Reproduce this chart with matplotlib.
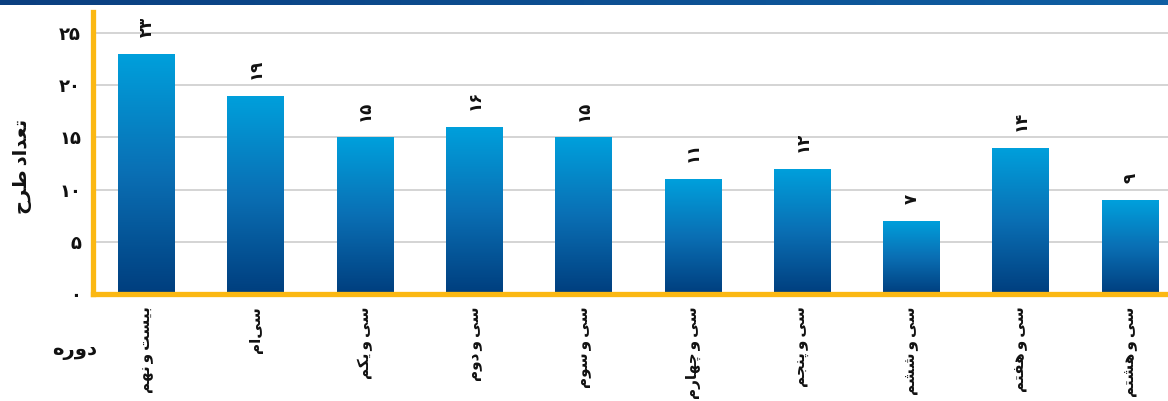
import numpy as np
import matplotlib
matplotlib.use("Agg")
import matplotlib.pyplot as plt
from matplotlib.colors import LinearSegmentedColormap

# ---- data -------------------------------------------------------------
periods = ["بیست و نهم", "سی\u200cام", "سی و یکم", "سی و دوم", "سی و سوم",
           "سی و چهارم", "سی و پنجم", "سی و ششم", "سی و هفتم", "سی و هشتم"]
counts = [23, 19, 15, 16, 15, 11, 12, 7, 14, 9]
y_ticks = [0, 5, 10, 15, 20, 25]
y_label = "تعداد طرح"
x_label = "دوره"

# ---- minimal Persian shaping (presentation forms + visual order) -------
# letter: (isolated, final, initial, medial); None means the letter
# does not join to the following letter.
FORMS = {
    "ا": (0xFE8D, 0xFE8E, None, None),
    "ب": (0xFE8F, 0xFE90, 0xFE91, 0xFE92),
    "پ": (0xFB56, 0xFB57, 0xFB58, 0xFB59),
    "ت": (0xFE95, 0xFE96, 0xFE97, 0xFE98),
    "ج": (0xFE9D, 0xFE9E, 0xFE9F, 0xFEA0),
    "چ": (0xFB7A, 0xFB7B, 0xFB7C, 0xFB7D),
    "ح": (0xFEA1, 0xFEA2, 0xFEA3, 0xFEA4),
    "د": (0xFEA9, 0xFEAA, None, None),
    "ر": (0xFEAD, 0xFEAE, None, None),
    "س": (0xFEB1, 0xFEB2, 0xFEB3, 0xFEB4),
    "ش": (0xFEB5, 0xFEB6, 0xFEB7, 0xFEB8),
    "ط": (0xFEC1, 0xFEC2, 0xFEC3, 0xFEC4),
    "ع": (0xFEC9, 0xFECA, 0xFECB, 0xFECC),
    "ف": (0xFED1, 0xFED2, 0xFED3, 0xFED4),
    "ک": (0xFB8E, 0xFB8F, 0xFB90, 0xFB91),
    "م": (0xFEE1, 0xFEE2, 0xFEE3, 0xFEE4),
    "ن": (0xFEE5, 0xFEE6, 0xFEE7, 0xFEE8),
    "ه": (0xFEE9, 0xFEEA, 0xFEEB, 0xFEEC),
    "و": (0xFEED, 0xFEEE, None, None),
    "ی": (0xFBFC, 0xFBFD, 0xFBFE, 0xFBFF),
}


def shape(text, space=" "):
    out = []
    n = len(text)
    for i, ch in enumerate(text):
        if ch not in FORMS:
            if ch == " ":
                out.append(space)
            elif ch != "\u200c":
                out.append(ch)
            continue
        prev = text[i - 1] if i > 0 else None
        nxt = text[i + 1] if i < n - 1 else None
        join_prev = prev in FORMS and FORMS[prev][2] is not None
        join_next = nxt in FORMS and FORMS[ch][2] is not None
        iso, fin, ini, med = FORMS[ch]
        if join_prev and join_next:
            code = med
        elif join_prev:
            code = fin
        elif join_next:
            code = ini
        else:
            code = iso
        out.append(chr(code))
    return "".join(reversed(out))


def fa_digits(v):
    return "".join(chr(0x06F0 + int(d)) for d in str(v))


# ---- figure -------------------------------------------------------------
plt.rcParams["font.family"] = ["DejaVu Sans"]
plt.rcParams["font.weight"] = "bold"

fig = plt.figure(figsize=(11.68, 4.01), dpi=100)
ax = fig.add_axes([0.080, 0.267, 0.933, 0.703])

x = np.arange(len(counts))
bar_w = 0.52
bars = ax.bar(x, counts, width=bar_w, color="none", edgecolor="none", zorder=3)

cmap = LinearSegmentedColormap.from_list("barblue", ["#003e7e", "#0a6fb4", "#00a0dc"])
grad = np.linspace(0, 1, 256).reshape(-1, 1)
for b in bars:
    x0, w, h = b.get_x(), b.get_width(), b.get_height()
    im = ax.imshow(grad, cmap=cmap, origin="lower", aspect="auto",
                   extent=(x0, x0 + w, 0, h), zorder=3, interpolation="bicubic")
    im.set_clip_path(b)

for xi, v in zip(x, counts):
    ax.annotate(fa_digits(v), (xi, v), xytext=(0, 12), textcoords="offset points",
                rotation=90, ha="center", va="bottom", fontsize=12,
                fontweight="bold", color="#111111", zorder=4)

ax.set_xlim(-0.485, 9.485)
ax.set_ylim(0, 27)
ax.set_yticks(y_ticks)
ax.set_yticklabels([fa_digits(t) for t in y_ticks], fontsize=13, fontweight="bold")
ax.set_xticks(x)
ax.set_xticklabels([shape(p, "\u2009") for p in periods], rotation=90, fontsize=11,
                   fontweight="bold", va="top", ha="center")
ax.tick_params(axis="both", length=0, colors="#111111")
ax.tick_params(axis="y", pad=9)
ax.tick_params(axis="x", pad=9)

ax.yaxis.grid(True, color="#cdcdcd", linewidth=1.2, zorder=0)
ax.set_axisbelow(True)
for side in ("top", "right"):
    ax.spines[side].set_visible(False)
for side in ("left", "bottom"):
    ax.spines[side].set_color("#fbb813")
    ax.spines[side].set_linewidth(3.8)
    ax.spines[side].set_zorder(5)
ax.set_facecolor("white")

fig.text(0.019, 0.585, shape(y_label, "\u2009"), rotation=90, ha="center", va="center",
         fontsize=14, fontweight="bold", color="#111111")
fig.text(0.064, 0.127, shape(x_label), ha="center", va="center",
         fontsize=14, fontweight="bold", color="#111111")

# header band along the top edge
band = fig.add_axes([0, 0.988, 1, 0.012])
band.imshow(np.linspace(0, 1, 256).reshape(1, -1), aspect="auto",
            cmap=LinearSegmentedColormap.from_list("band", ["#0b3f80", "#0f5fa3"]))
band.set_axis_off()

fig.savefig("out.png", dpi=100)
